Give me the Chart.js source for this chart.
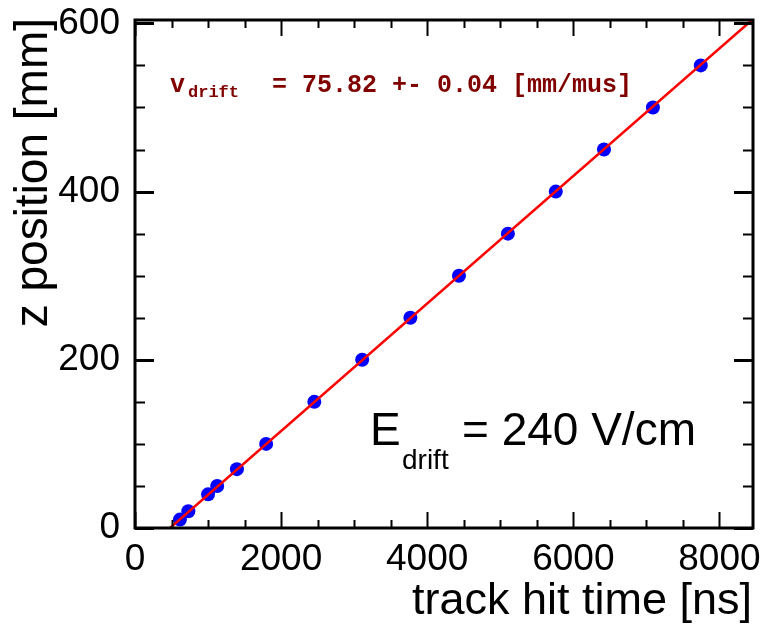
<!DOCTYPE html>
<html>
<head>
<meta charset="utf-8">
<script src="https://cdn.jsdelivr.net/npm/chart.js@4.4.0/dist/chart.umd.min.js"></script>
<style>
  html, body { margin: 0; padding: 0; background: #fff; }
  #wrap { width: 767px; height: 626px; }
</style>
</head>
<body>
<div id="wrap"><canvas id="driftChart" width="767" height="626"></canvas></div>
<script>
// measured points: track hit time [ns] vs z position [mm]
const hitTime = [615, 730, 1000, 1125, 1395, 1795, 2455, 3110, 3770, 4435, 5105, 5760, 6420, 7090, 7745];
const zPos = [10, 20, 40, 50, 70, 100, 150, 200, 250, 300, 350, 400, 450, 500, 550];

// linear fit, end points
const fitTime = [480, 8446];
const fitZ = [0, 604];

const xTicks = [0, 2000, 4000, 6000, 8000];
const yTicks = [0, 200, 400, 600];

const xRange = [0, 8460];
const yRange = [0, 604];

const fontSans = '"Liberation Sans", Arial, sans-serif';
const fontMono = '"Liberation Mono", "Courier New", monospace';

// ROOT-like frame with ticks on all four sides + text labels
const rootFrame = {
    id: 'rootFrame',
    afterDraw(chart) {
        const ctx = chart.ctx;
        const a = chart.chartArea;
        const xs = chart.scales.x;
        const ys = chart.scales.y;
        ctx.save();
        ctx.strokeStyle = '#000';
        ctx.lineWidth = 2;

        // x ticks, bottom and top
        for (let v = 0; v <= xRange[1]; v += 500) {
            const px = Math.round(xs.getPixelForValue(v)) + 0.5;
            const len = (v % 2000 === 0) ? 16 : 8;
            ctx.beginPath();
            ctx.moveTo(px, a.bottom); ctx.lineTo(px, a.bottom - len);
            ctx.moveTo(px, a.top); ctx.lineTo(px, a.top + len);
            ctx.stroke();
        }
        // y ticks, left and right
        for (let v = 0; v <= yRange[1]; v += 50) {
            const py = Math.round(ys.getPixelForValue(v)) + 0.5;
            const len = (v % 200 === 0) ? 19 : 10;
            ctx.lineWidth = (v % 200 === 0) ? 3 : 2;
            ctx.beginPath();
            ctx.moveTo(a.left, py); ctx.lineTo(a.left + len, py);
            ctx.moveTo(a.right, py); ctx.lineTo(a.right - len, py);
            ctx.stroke();
        }

        ctx.lineWidth = 3;
        ctx.strokeRect(a.left, a.top, a.right - a.left, a.bottom - a.top);

        // axis titles
        ctx.fillStyle = '#000';
        ctx.font = '45px ' + fontSans;
        ctx.textBaseline = 'alphabetic';
        ctx.textAlign = 'right';
        ctx.fillText('track hit time [ns]', 752, 614);

        ctx.save();
        ctx.translate(47, 18);
        ctx.rotate(-Math.PI / 2);
        ctx.font = '46px ' + fontSans;
        ctx.fillText('z position [mm]', 0, 0);
        ctx.restore();

        // fit result
        ctx.textAlign = 'left';
        ctx.fillStyle = '#800000';
        ctx.font = 'bold 25px ' + fontMono;
        ctx.fillText('v', 170, 92);
        ctx.font = 'bold 17px ' + fontMono;
        ctx.fillText('drift', 188, 97);
        ctx.font = 'bold 25px ' + fontMono;
        ctx.fillText('= 75.82 +- 0.04 [mm/mus]', 272, 92);

        // field label
        ctx.fillStyle = '#000';
        ctx.font = '46px ' + fontSans;
        ctx.fillText('E', 370, 445);
        ctx.font = '28px ' + fontSans;
        ctx.fillText('drift', 402, 469);
        ctx.font = '46px ' + fontSans;
        ctx.fillText('= 240 V/cm', 462, 445);

        ctx.restore();
    }
};

function noPadding(scale) {
    scale.paddingLeft = 0;
    scale.paddingRight = 0;
    scale.paddingTop = 0;
    scale.paddingBottom = 0;
}

const ctx = document.getElementById('driftChart').getContext('2d');
const driftChart = new Chart(ctx, {
    type: 'scatter',
    data: {
        datasets: [{
            label: 'fit',
            type: 'line',
            data: fitTime.map((t, i) => ({ x: t, y: fitZ[i] })),
            borderColor: '#ff0000',
            borderWidth: 2.5,
            pointRadius: 0,
            fill: false,
            order: 0
        }, {
            label: 'data',
            data: hitTime.map((t, i) => ({ x: t, y: zPos[i] })),
            backgroundColor: '#0000ff',
            borderColor: '#0000ff',
            pointRadius: 7,
            pointBorderWidth: 0,
            order: 1
        }]
    },
    options: {
        responsive: false,
        animation: false,
        layout: {
            padding: { left: 0, right: 14, top: 20, bottom: 0 }
        },
        plugins: {
            legend: { display: false },
            tooltip: { enabled: false }
        },
        scales: {
            x: {
                type: 'linear',
                min: xRange[0],
                max: xRange[1],
                border: { display: false },
                grid: { display: false, drawTicks: false },
                afterFit(scale) { scale.height = 98; noPadding(scale); },
                afterBuildTicks(scale) { scale.ticks = xTicks.map(v => ({ value: v })); },
                ticks: {
                    padding: 10,
                    color: '#000',
                    maxRotation: 0,
                    font: { family: fontSans, size: 37 },
                    callback: v => String(v)
                }
            },
            y: {
                type: 'linear',
                min: yRange[0],
                max: yRange[1],
                border: { display: false },
                grid: { display: false, drawTicks: false },
                afterFit(scale) { scale.width = 135; noPadding(scale); },
                afterBuildTicks(scale) { scale.ticks = yTicks.map(v => ({ value: v })); },
                ticks: {
                    padding: 15,
                    color: '#000',
                    font: { family: fontSans, size: 37 },
                    callback: v => String(v)
                }
            }
        }
    },
    plugins: [rootFrame]
});
</script>
</body>
</html>
